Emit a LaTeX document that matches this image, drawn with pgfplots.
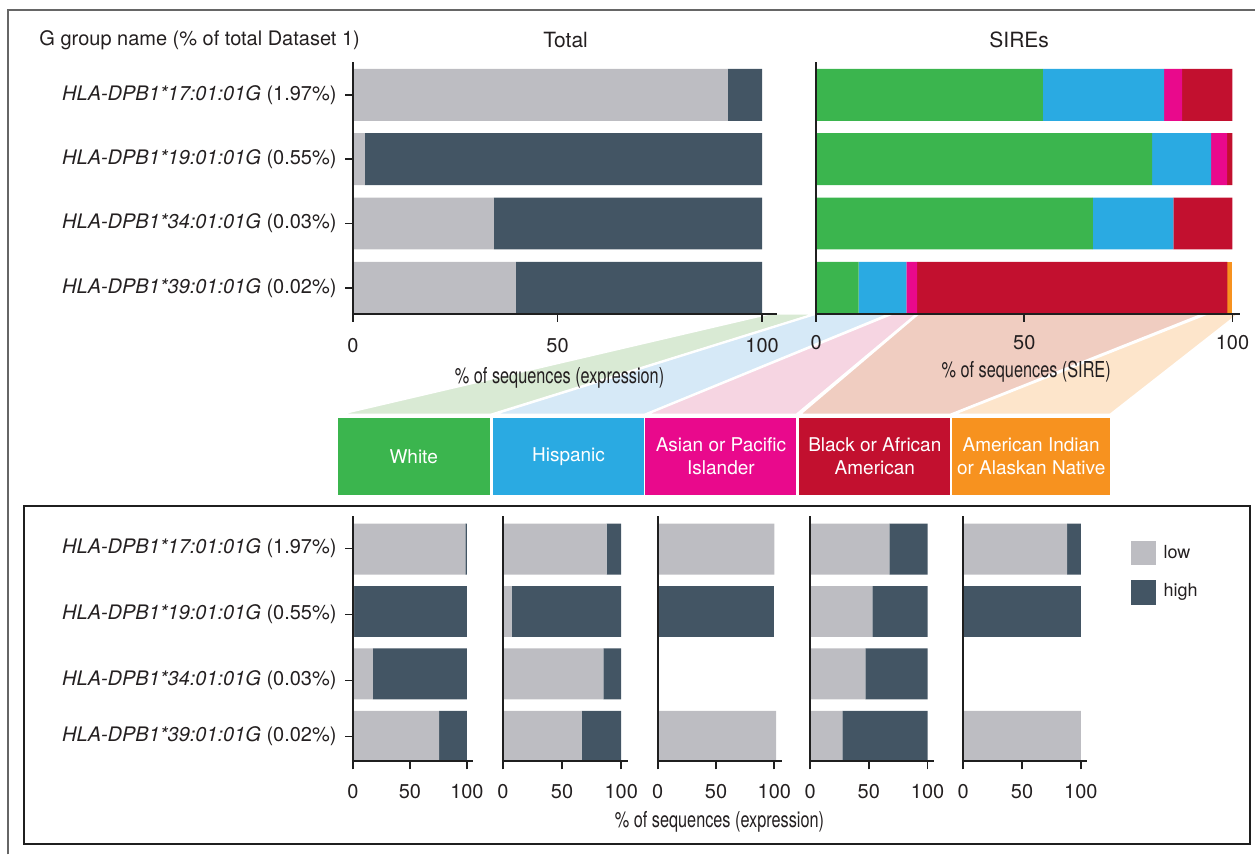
\documentclass[border=0pt]{standalone}
\usepackage{pgfplots}
\pgfplotsset{compat=1.18}
\usepackage{fontspec}
\setmainfont{TeX Gyre Heros}
\usepackage{graphicx}
\definecolor{lowc}{RGB}{189,189,194}
\definecolor{highc}{RGB}{67,85,100}
\definecolor{cW}{RGB}{59,181,78}
\definecolor{cH}{RGB}{42,170,226}
\definecolor{cA}{RGB}{233,9,140}
\definecolor{cB}{RGB}{194,16,47}
\definecolor{cO}{RGB}{247,146,31}
\definecolor{fW}{RGB}{217,234,212}
\definecolor{fH}{RGB}{214,233,247}
\definecolor{fA}{RGB}{246,213,226}
\definecolor{fB}{RGB}{240,205,193}
\definecolor{fO}{RGB}{253,229,203}
\definecolor{txt}{RGB}{35,31,32}
\newcommand{\sz}[1]{\fontsize{#1bp}{1.2\dimexpr#1bp\relax}\selectfont}
\pgfplotsset{
  hbar/.style={
    scale only axis, xbar stacked, enlargelimits=false, axis on top,
    axis lines=left, axis line style={-, line width=2bp, draw=black!88},
    tick align=outside, major tick length=8bp,
    tick style={line width=1.8bp, draw=black!88},
    xtick={0,50,100}, xmin=0,
    ticklabel style={font=\sz{20}, text=txt},
    yticklabel style={xshift=-5bp},
    /pgf/number format/assume math mode=true,
    every axis plot/.append style={draw=none},
  },
  toph/.style={hbar, height=252.3bp, ymin=0.596, ymax=4.518, bar width=52bp},
  both/.style={hbar, height=245.3bp, ymin=0.6, ymax=4.525, bar width=51bp, ytick=\empty,
    xticklabel style={yshift=-11bp}},
}
\begin{document}
\begin{tikzpicture}[x=1bp,y=1bp]
\path (0,0) rectangle (1256,855);
% outer frames
\draw[line width=2bp, black!60] (8,0) -- (8,845) -- (1256,845);
\draw[line width=2.2bp, black!88] (24,10) rectangle (1251,348.3);
% funnels
\begin{scope}[draw=white, line width=2bp]
\filldraw[fill=fW] (770,541) -- (816,541) -- (491,440) -- (338,440) -- cycle;
\filldraw[fill=fH] (817,541) -- (891,541) -- (645,440) -- (493,440) -- cycle;
\filldraw[fill=fA] (893,541) -- (918,541) -- (797,440) -- (646,440) -- cycle;
\filldraw[fill=fB] (919,541) -- (1205,541) -- (951,440) -- (800,440) -- cycle;
\filldraw[fill=fO] (1208,541) -- (1240,541) -- (1111,440) -- (953,440) -- cycle;
\end{scope}
% category boxes
\fill[cW] (338,360) rectangle (490,437);
\fill[cH] (493,360) rectangle (645,437);
\fill[cA] (646,360) rectangle (797,437);
\fill[cB] (800,360) rectangle (951,437);
\fill[cO] (953,360) rectangle (1111,437);
\begin{scope}[text=white, font=\sz{19}, align=center]
\node at (414,397.5) {White};
\node at (569,397.5) {Hispanic};
\node at (721.5,398.5) {Asian or Pacific\\Islander};
\node at (875.5,398.5) {Black or African\\American};
\node at (1032,398.5) {American Indian\\or Alaskan Native};
\end{scope}
% titles
\node[anchor=west, font=\sz{20}, text=txt] at (36,815) {G group name (\% of total Dataset 1)};
\node[font=\sz{21}, text=txt] at (566,815) {Total};
\node[font=\sz{21}, text=txt] at (1020,815) {SIREs};

% Total
\begin{axis}[toph, at={(353.3bp,541bp)}, anchor=south west, width=424.6bp, xmax=103.7,
  xticklabel style={yshift=-13bp},
  ytick={1,2,3,4},
  yticklabels={{\textit{HLA-DPB1*39:01:01G} (0.02\%)},{\textit{HLA-DPB1*34:01:01G} (0.03\%)},{\textit{HLA-DPB1*19:01:01G} (0.55\%)},{\textit{HLA-DPB1*17:01:01G} (1.97\%)}}]
\addplot[fill=lowc] coordinates {(91.6,4) (2.9,3) (34.4,2) (39.8,1)};
\addplot[fill=highc] coordinates {(8.4,4) (97.1,3) (65.6,2) (60.2,1)};
\end{axis}
% SIREs
\begin{axis}[toph, at={(816.7bp,541bp)}, anchor=south west, width=424bp, xmax=101.75, ytick=\empty,
  xticklabel style={yshift=-10bp}]
\addplot[fill=cW] coordinates {(54.5,4) (80.7,3) (66.5,2) (10.2,1)};
\addplot[fill=cH] coordinates {(29.1,4) (14.2,3) (19.3,2) (11.5,1)};
\addplot[fill=cA] coordinates {(4.3,4) (3.8,3) (0,2) (2.6,1)};
\addplot[fill=cB] coordinates {(12.1,4) (1.3,3) (14.2,2) (74.5,1)};
\addplot[fill=cO] coordinates {(0,4) (0,3) (0,2) (1.2,1)};
\end{axis}
\node[font=\sz{22}, text=txt] at (560,477) {\scalebox{0.74}[1]{\% of sequences (expression)}};
\node[font=\sz{22}, text=txt] at (1027,483) {\scalebox{0.74}[1]{\% of sequences (SIRE)}};

% bottom panels
\begin{axis}[both, at={(353.3bp,93bp)}, anchor=south west, width=119.7bp, xmax=105,
  ytick={1,1.896,2.952,4.008},
  yticklabels={{\textit{HLA-DPB1*39:01:01G} (0.02\%)},{\textit{HLA-DPB1*34:01:01G} (0.03\%)},{\textit{HLA-DPB1*19:01:01G} (0.55\%)},{\textit{HLA-DPB1*17:01:01G} (1.97\%)}}]
\addplot[fill=lowc] coordinates {(98.6,4) (1.0,3) (17.4,2) (75.6,1)};
\addplot[fill=highc] coordinates {(1.4,4) (99.0,3) (82.6,2) (24.4,1)};
\end{axis}
\begin{axis}[both, at={(503.3bp,93bp)}, anchor=south west, width=124.7bp, xmax=105.3]
\addplot[fill=lowc] coordinates {(87.6,4) (7.3,3) (85.0,2) (66.5,1)};
\addplot[fill=highc] coordinates {(12.4,4) (92.7,3) (15.0,2) (33.5,1)};
\end{axis}
\begin{axis}[both, at={(658.3bp,93bp)}, anchor=south west, width=124.7bp, xmax=106.9]
\addplot[fill=lowc] coordinates {(100,4) (0,3) (0,2) (101.5,1)};
\addplot[fill=highc] coordinates {(0,4) (100,3) (0,2) (0,1)};
\end{axis}
\begin{axis}[both, at={(810.7bp,93bp)}, anchor=south west, width=124.3bp, xmax=105.7]
\addplot[fill=lowc] coordinates {(67.4,4) (53.0,3) (47.0,2) (27.5,1)};
\addplot[fill=highc] coordinates {(32.6,4) (47.0,3) (53.0,2) (72.5,1)};
\end{axis}
\begin{axis}[both, at={(964bp,93bp)}, anchor=south west, width=124bp, xmax=105.4]
\addplot[fill=lowc] coordinates {(88.4,4) (0,3) (0,2) (100,1)};
\addplot[fill=highc] coordinates {(11.6,4) (100,3) (0,2) (0,1)};
\end{axis}
\node[font=\sz{22}, text=txt] at (720,32) {\scalebox{0.74}[1]{\% of sequences (expression)}};
% legend
\fill[lowc] (1131.7,289.3) rectangle (1156.7,314);
\fill[highc] (1131.7,250) rectangle (1156.7,275);
\node[anchor=west, font=\sz{18}, text=txt] at (1161,302) {low};
\node[anchor=west, font=\sz{18}, text=txt] at (1161,263) {high};
\end{tikzpicture}
\end{document}
